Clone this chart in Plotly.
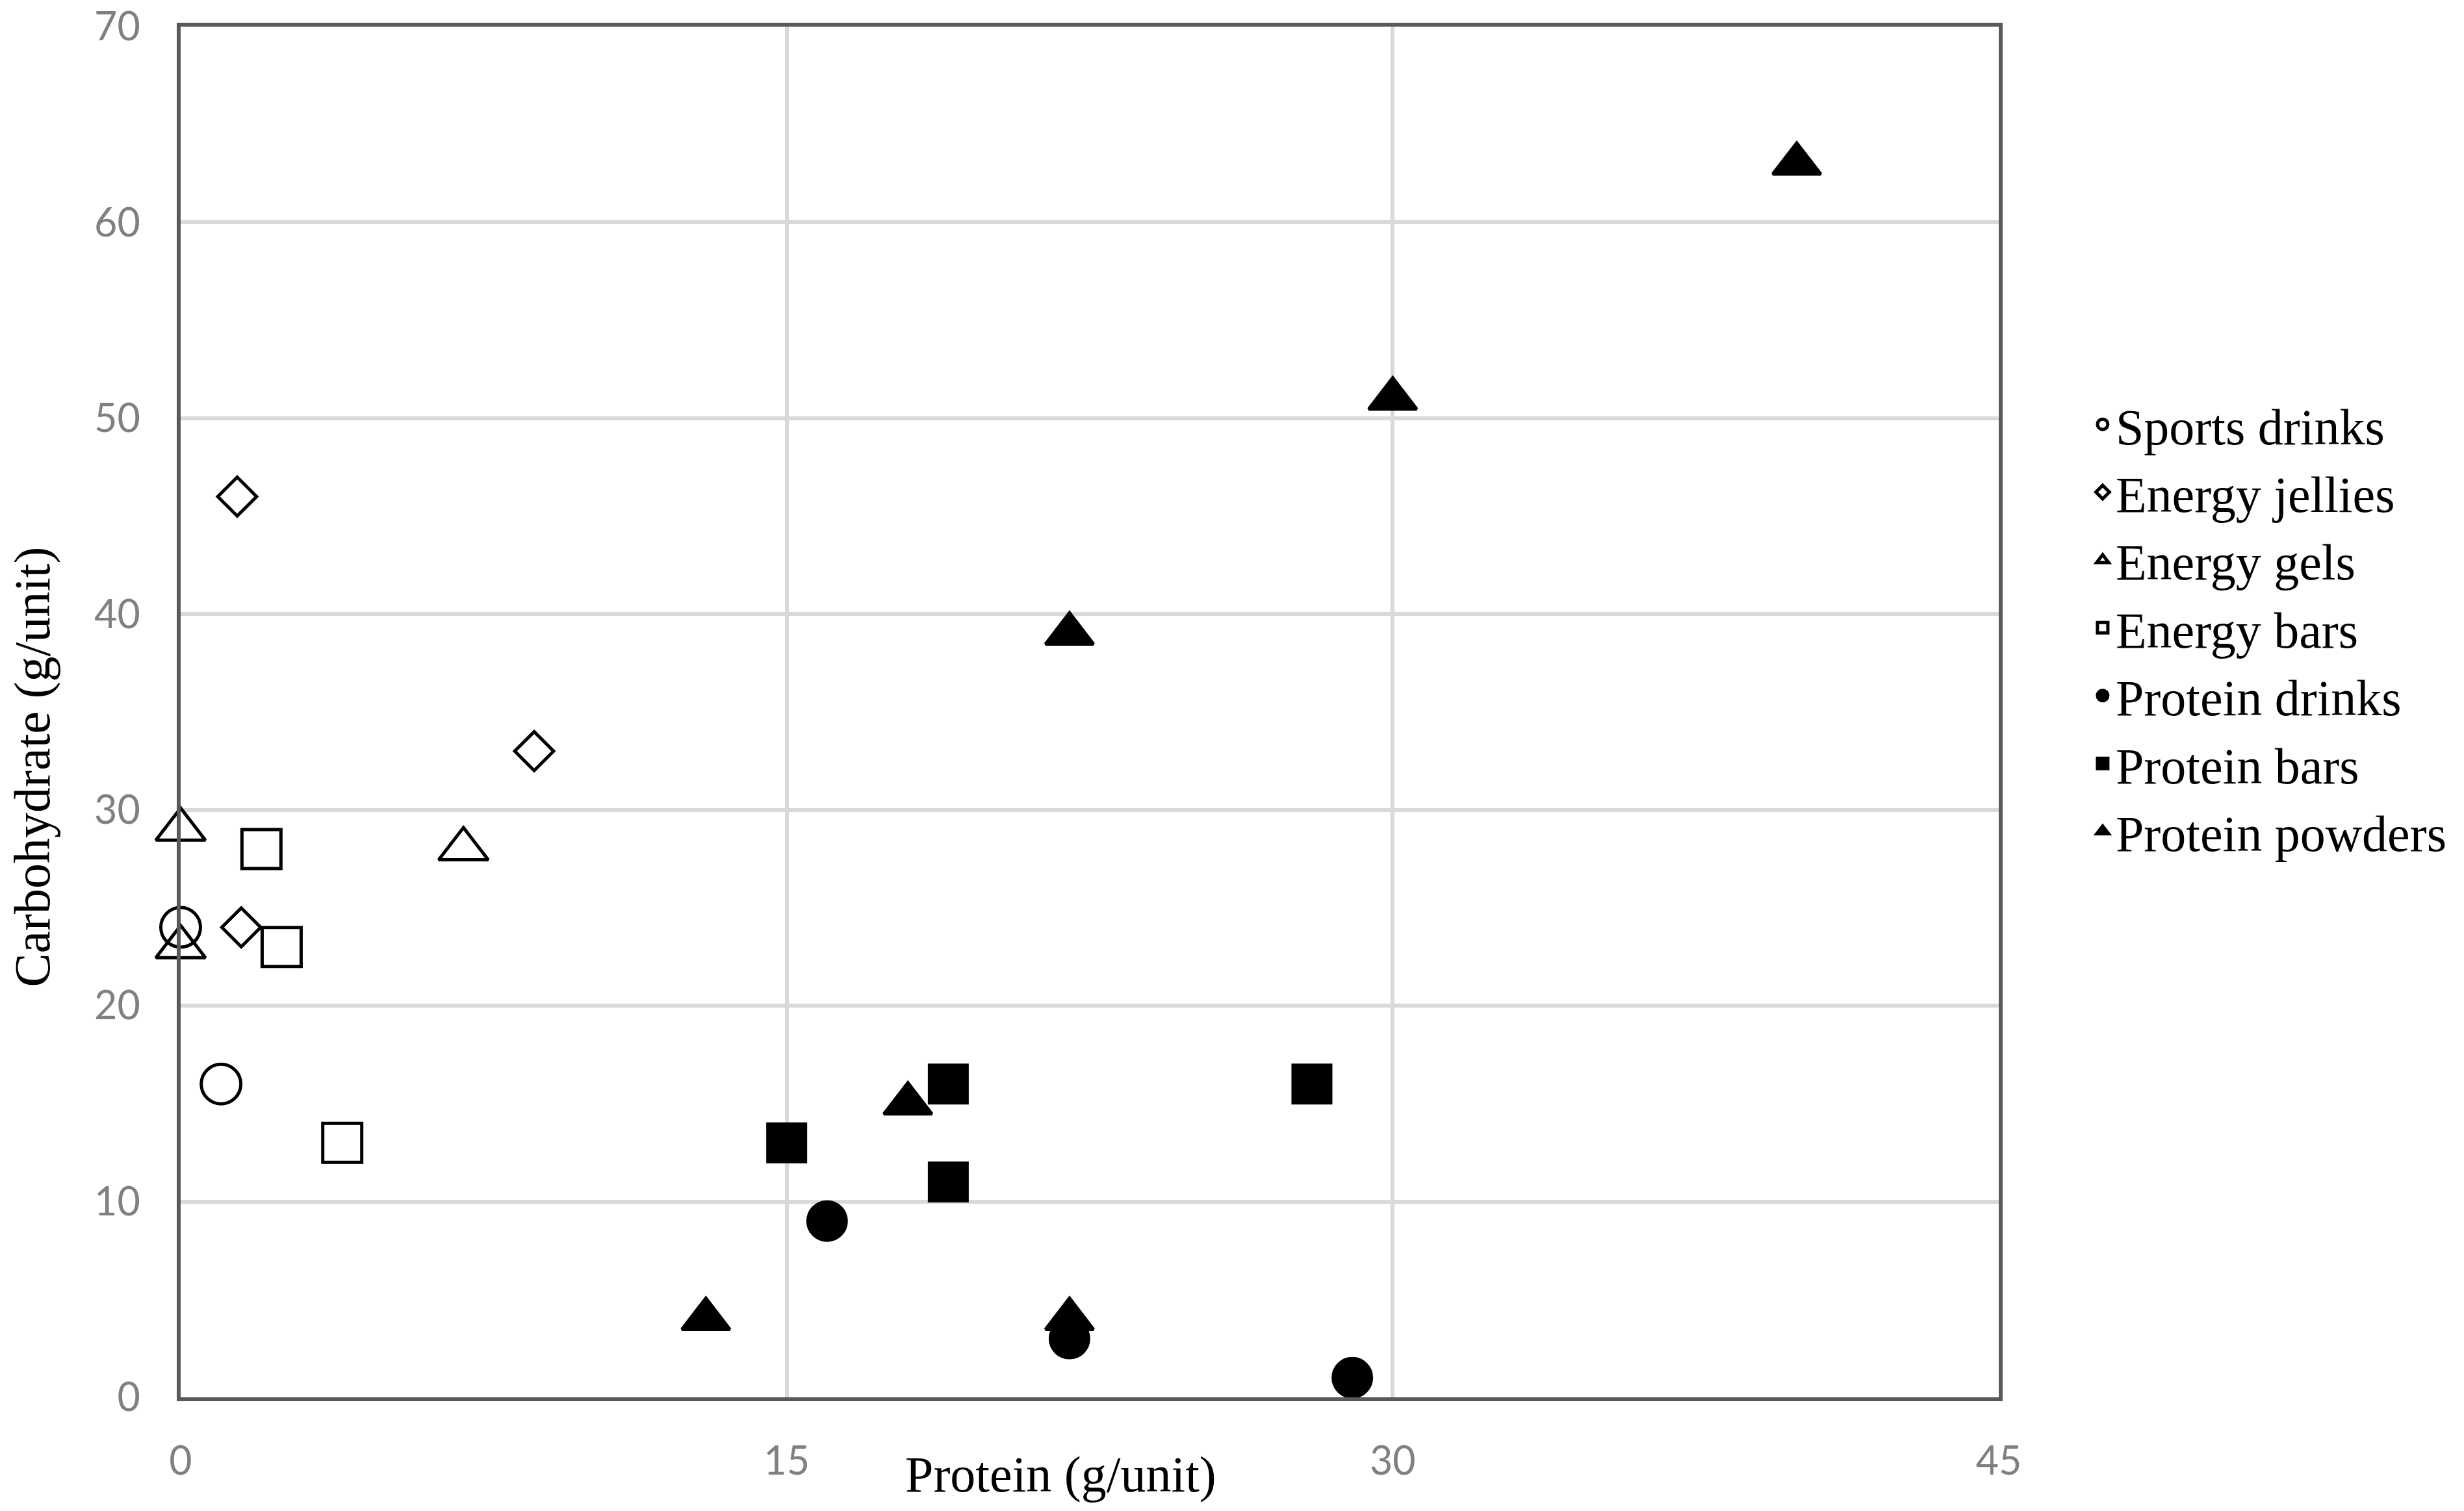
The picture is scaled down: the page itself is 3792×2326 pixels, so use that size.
import plotly.graph_objects as go

# ---- data ----
sports_drinks_x = [0, 1]
sports_drinks_y = [24, 16]

energy_jellies_x = [1.4, 8.75, 1.5]
energy_jellies_y = [46, 33, 24]

energy_gels_x = [0, 0, 7]
energy_gels_y = [29, 23, 28]

energy_bars_x = [2, 2.5, 4]
energy_bars_y = [28, 23, 13]

protein_drinks_x = [16, 22, 29]
protein_drinks_y = [9, 3, 1]

protein_bars_x = [15, 19, 19, 28]
protein_bars_y = [13, 16, 11, 16]

protein_powders_x = [40, 30, 22, 18, 13, 22]
protein_powders_y = [63, 51, 39, 15, 4, 4]

series_names = ["Sports drinks", "Energy jellies", "Energy gels", "Energy bars",
                "Protein drinks", "Protein bars", "Protein powders"]

x_ticks = [0, 15, 30, 45]
y_ticks = [0, 10, 20, 30, 40, 50, 60, 70]

x_title = "Protein (g/unit)"
y_title = "Carbohydrate (g/unit)"

# ---- styling ----
series = [
    (sports_drinks_x, sports_drinks_y, "circle-open", 61),
    (energy_jellies_x, energy_jellies_y, "diamond-open", 46),
    (energy_gels_x, energy_gels_y, "triangle-up-open", 66),
    (energy_bars_x, energy_bars_y, "square-open", 60),
    (protein_drinks_x, protein_drinks_y, "circle", 59),
    (protein_bars_x, protein_bars_y, "square", 58),
    (protein_powders_x, protein_powders_y, "triangle-up", 64),
]

fig = go.Figure()
for name, (xs, ys, sym, size) in zip(series_names, series):
    fig.add_trace(go.Scatter(
        x=xs, y=ys, mode="markers", name=name,
        marker=dict(symbol=sym, size=size, color="black",
                    line=dict(color="black", width=5)),
        cliponaxis=False,
    ))

W, H = 3792, 2326
L, R, T, B = 278, 3792 - 3076, 41, 2326 - 2151

axis_common = dict(
    showline=True, linecolor="#595959", linewidth=6, mirror=True,
    showgrid=True, gridcolor="#d9d9d9", gridwidth=6,
    zeroline=False, ticks="", ticklabeloverflow="allow",
    tickfont=dict(family="Lato", size=61, color="#808080"),
)

fig.update_xaxes(range=[0, 45], tickvals=x_ticks, ticklabelstandoff=40, **axis_common)
fig.update_yaxes(range=[0, 70], tickvals=y_ticks, ticklabelstandoff=44, **axis_common)

title_font = dict(family="Liberation Serif", size=78, color="black")
fig.add_annotation(text=x_title, xref="paper", yref="paper",
                   x=0.484, y=-0.0563, xanchor="center", yanchor="middle",
                   showarrow=False, font=title_font)
fig.add_annotation(text=y_title, xref="paper", yref="paper",
                   x=-0.0818, y=0.46, xanchor="center", yanchor="middle",
                   textangle=-90, showarrow=False, font=title_font)

fig.update_layout(
    width=W, height=H,
    margin=dict(l=L, r=R, t=T, b=B, autoexpand=False),
    paper_bgcolor="white", plot_bgcolor="white",
    showlegend=True,
    legend=dict(
        x=1.05, y=0.737, xanchor="left", yanchor="top",
        font=dict(family="Liberation Serif", size=78, color="black"),
        bgcolor="rgba(0,0,0,0)", itemsizing="trace",
        tracegroupgap=0,
    ),
)

fig.write_html("out.html")
